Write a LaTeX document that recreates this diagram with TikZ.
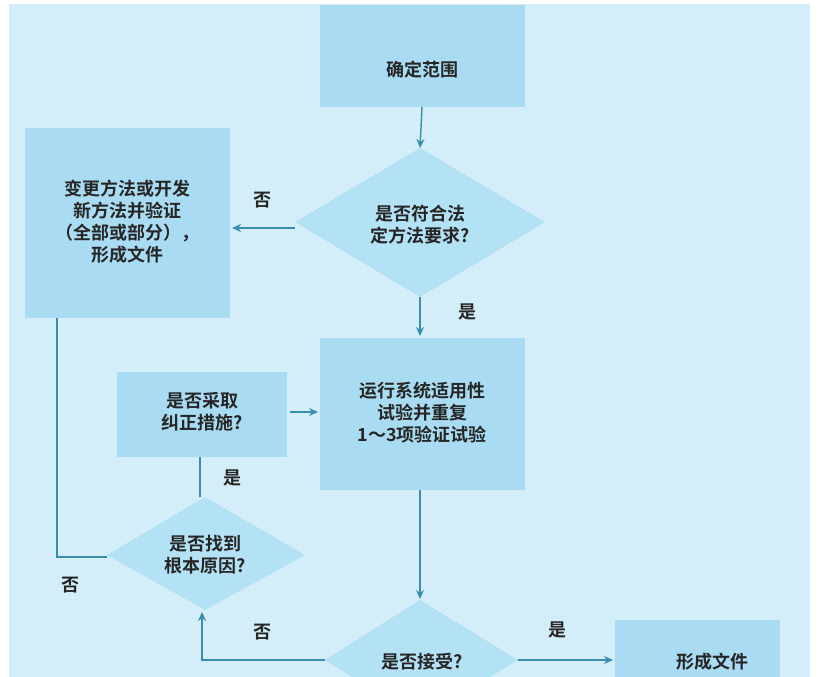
\documentclass[tikz,border=0pt]{standalone}
\usepackage{fontspec}
\setmainfont{Noto Sans CJK SC}[BoldFont={* Bold}]
\usetikzlibrary{arrows.meta}
\definecolor{bg}{HTML}{D4EEF9}
\definecolor{boxc}{HTML}{A9DCF2}
\definecolor{dia}{HTML}{B3E2F5}
\definecolor{lnc}{HTML}{3A8DAD}
\tikzset{
  lbl/.style={font=\fontsize{18}{22}\selectfont\bfseries, text=black!85, align=center},
  ln/.style={draw=lnc, line width=1.4pt},
  arr/.style={ln, -{Stealth[length=9pt,width=8pt]}},
}
\begin{document}
\begin{tikzpicture}[x=1pt,y=-1pt]
\useasboundingbox (0,0) rectangle (819,677);
\clip (0,0) rectangle (819,677);
\fill[white] (0,0) rectangle (819,677);
\fill[bg] (9,4) rectangle (810,677);
% shapes
\fill[boxc] (320,5) rectangle (525,107);
\coordinate (b1) at (422,107);
\node[lbl] (t1) at (422,70) {确定范围};
\fill[dia] (295,222) -- (420,148) -- (545,222) -- (420,297) -- cycle;
\node[lbl] (d1) at (420,225) {是否符合法\\定方法要求?};
\coordinate (d1t) at (420,148); \coordinate (d1b) at (420,297); \coordinate (d1l) at (295,228);
\fill[boxc] (25,128) rectangle (230,318);
\node[lbl] (lb) at (127,222) {变更方法或开发\\新方法并验证\\（全部或部分），\\形成文件};
\coordinate (lbr) at (232,228); \coordinate (lbb) at (57,318);
\fill[boxc] (320,338) rectangle (525,490);
\node[lbl] (run) at (422,413) {运行系统适用性\\试验并重复\\1～3项验证试验};
\coordinate (runt) at (420,336); \coordinate (runl) at (318,412); \coordinate (runb) at (420,490);
\fill[boxc] (117,372) rectangle (287,457);
\node[lbl] (cor) at (202,412) {是否采取\\纠正措施?};
\coordinate (corr) at (290,412); \coordinate (corb) at (200,457);
\fill[dia] (107,555) -- (205,497) -- (305,555) -- (205,610) -- cycle;
\node[lbl] (d2) at (205,555) {是否找到\\根本原因?};
\coordinate (d2t) at (200,497); \coordinate (d2l) at (107,557); \coordinate (d2b) at (202,612);
\fill[dia] (325,660) -- (420,600) -- (518,660) -- (420,720) -- cycle;
\node[lbl] (d3) at (422,662) {是否接受?};
\coordinate (d3t) at (420,599); \coordinate (d3l) at (325,660); \coordinate (d3r) at (518,660);
\fill[boxc] (615,620) rectangle (780,690);
\node[lbl] (ff) at (712,662) {形成文件};
\coordinate (ffl) at (613,660);
% connectors
\draw[arr] (b1) -- (d1t);
\draw[arr] (d1l) -- (lbr);
\draw[arr] (d1b) -- (runt);
\draw[arr] (corr) -- (runl);
\draw[ln] (corb) -- (d2t);
\draw[ln] (lbb) |- (d2l);
\draw[arr] (runb) -- (d3t);
\draw[arr] (d3l) -| (d2b);
\draw[arr] (d3r) -- (ffl);
% labels
\node[lbl] (n1) at (262,200) {否};
\node[lbl] (y1) at (467,312) {是};
\node[lbl] (y2) at (232,478) {是};
\node[lbl] (n2) at (70,585) {否};
\node[lbl] (n3) at (262,632) {否};
\node[lbl] (y3) at (557,630) {是};
\end{tikzpicture}
\end{document}
